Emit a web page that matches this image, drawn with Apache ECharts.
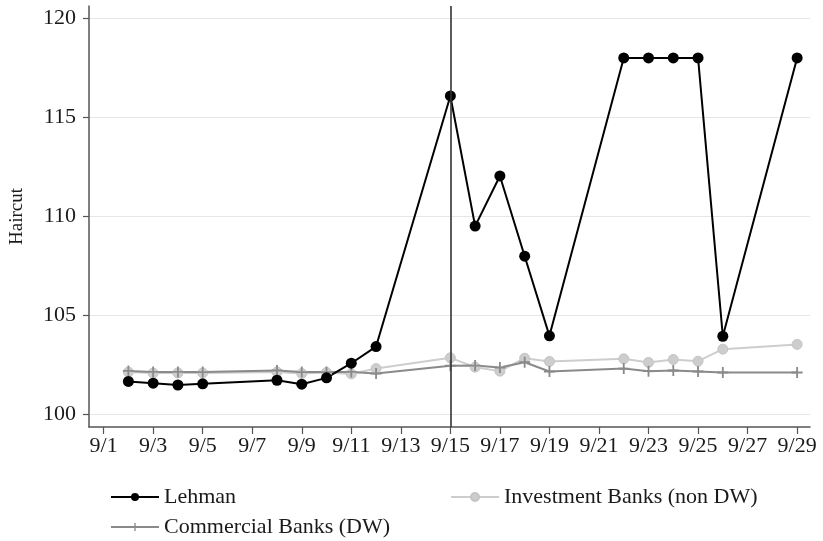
<!DOCTYPE html>
<html>
<head>
<meta charset="utf-8">
<script src="https://cdn.jsdelivr.net/npm/echarts@6/dist/echarts.min.js"></script>
<style>
    html, body { margin: 0; padding: 0; background: #fff; }
    #chart { width: 823px; height: 541px; }
</style>
</head>
<body>
<div id="chart"></div>
<script>
    // days of September 2008
    var days = [2, 3, 4, 5, 8, 9, 10, 11, 12, 15, 16, 17, 18, 19, 22, 23, 24, 25, 26, 29];
    var lehman = [101.67, 101.58, 101.49, 101.55, 101.73, 101.53, 101.85, 102.59, 103.43, 116.08,
                  109.51, 112.04, 107.99, 103.97, 118.0, 118.0, 118.0, 118.0, 103.95, 118.0];
    var commercial = [102.2, 102.15, 102.15, 102.14, 102.22, 102.14, 102.14, 102.15, 102.07, 102.46,
                      102.47, 102.37, 102.64, 102.17, 102.32, 102.19, 102.22, 102.17, 102.12, 102.12];
    var investment = [102.14, 102.09, 102.1, 102.1, 102.15, 102.07, 102.12, 102.05, 102.32, 102.86,
                      102.39, 102.19, 102.84, 102.68, 102.81, 102.63, 102.78, 102.69, 103.3, 103.54];
    var xTicks = [1, 3, 5, 7, 9, 11, 13, 15, 17, 19, 21, 23, 25, 27, 29];
    var yTicks = [100, 105, 110, 115, 120];
    var eventDay = 15;

    function pairs(vals) {
        return days.map(function (d, i) { return [d, vals[i]]; });
    }

    var font = 'Liberation Serif';
    var plus = 'path://M-1,-6 L1,-6 L1,-1 L6,-1 L6,1 L1,1 L1,6 L-1,6 L-1,1 L-6,1 L-6,-1 L-1,-1 Z';

    function legendAt(name, left, top) {
        return {
            left: left, top: top,
            itemWidth: 48, itemHeight: 10,
            data: [name],
            textStyle: { fontFamily: font, fontSize: 22, color: '#1a1a1a' }
        };
    }

    var chart = echarts.init(document.getElementById('chart'));
    var option = {
        animation: false,
        textStyle: { fontFamily: font },
        grid: { left: 88, right: 13, top: 6, bottom: 114 },
        legend: [
            legendAt('Lehman', 105, 481),
            legendAt('Commercial Banks (DW)', 105, 511),
            legendAt('Investment Banks (non DW)', 445, 481)
        ],
        xAxis: {
            type: 'value',
            min: 0.41, max: 29.52,
            axisLine: { onZero: false, lineStyle: { color: '#555', width: 1.5 } },
            axisTick: { customValues: xTicks, length: 7, lineStyle: { color: '#555', width: 1.2 } },
            axisLabel: {
                customValues: xTicks, margin: 8,
                fontFamily: font, fontSize: 22, color: '#1a1a1a',
                formatter: function (v) { return '9/' + v; }
            },
            splitLine: { show: false }
        },
        yAxis: {
            type: 'value',
            min: 99.37, max: 120.62,
            name: 'Haircut',
            nameLocation: 'middle',
            nameGap: 62,
            nameRotate: 90,
            nameTextStyle: { fontFamily: font, fontSize: 19, color: '#1a1a1a' },
            axisLine: { show: true, onZero: false, lineStyle: { color: '#555', width: 1.5 } },
            axisTick: { show: true, customValues: yTicks, length: 6, lineStyle: { color: '#555', width: 1.2 } },
            axisLabel: {
                customValues: yTicks, margin: 13,
                fontFamily: font, fontSize: 22, color: '#1a1a1a'
            },
            splitLine: { show: true, lineStyle: { color: '#e6e6e6', width: 1 } }
        },
        series: [
            {
                name: 'Investment Banks (non DW)',
                type: 'line',
                data: pairs(investment),
                symbol: 'circle', symbolSize: 10,
                itemStyle: { color: '#cdcdcd', borderColor: '#c4c4c4', borderWidth: 1 },
                lineStyle: { color: '#cdcdcd', width: 2 },
                markLine: {
                    silent: true,
                    symbol: 'none',
                    label: { show: false },
                    lineStyle: { color: '#333', width: 1.6, type: 'solid' },
                    data: [{ xAxis: eventDay }]
                }
            },
            {
                name: 'Commercial Banks (DW)',
                type: 'line',
                data: pairs(commercial),
                symbol: plus, symbolSize: 11,
                itemStyle: { color: '#8a8a8a' },
                lineStyle: { color: '#8a8a8a', width: 2 }
            },
            {
                name: 'Lehman',
                type: 'line',
                data: pairs(lehman),
                symbol: 'circle', symbolSize: 11,
                itemStyle: { color: '#000' },
                lineStyle: { color: '#000', width: 2 }
            }
        ]
    };
    option && chart.setOption(option);
</script>
</body>
</html>
